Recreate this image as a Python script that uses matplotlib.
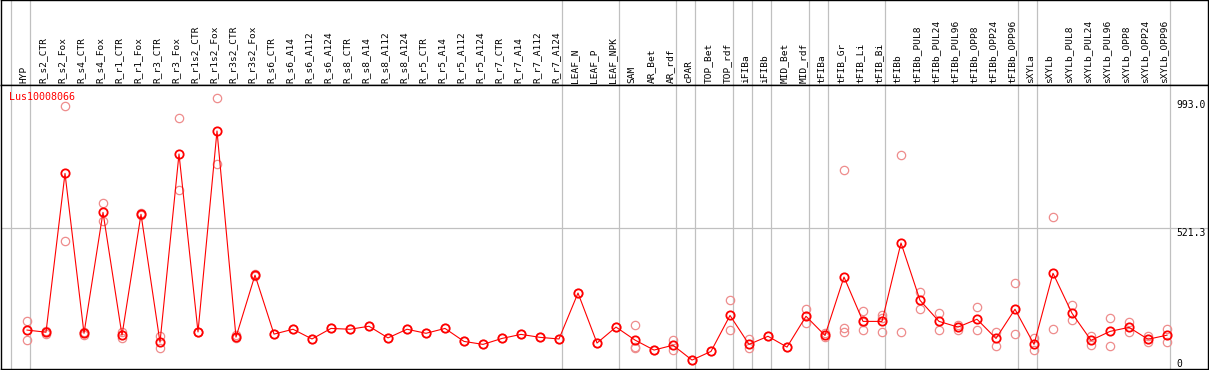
import matplotlib
matplotlib.use("Agg")
import matplotlib.pyplot as plt

# data
gene = "Lus10008066"

samples = ["HYP", "R_s2_CTR", "R_s2_Fox", "R_s4_CTR", "R_s4_Fox", "R_r1_CTR", "R_r1_Fox",
           "R_r3_CTR", "R_r3_Fox", "R_r1s2_CTR", "R_r1s2_Fox", "R_r3s2_CTR", "R_r3s2_Fox",
           "R_s6_CTR", "R_s6_A14", "R_s6_A112", "R_s6_A124", "R_s8_CTR", "R_s8_A14",
           "R_s8_A112", "R_s8_A124", "R_r5_CTR", "R_r5_A14", "R_r5_A112", "R_r5_A124",
           "R_r7_CTR", "R_r7_A14", "R_r7_A112", "R_r7_A124", "LEAF_N", "LEAF_P", "LEAF_NPK",
           "SAM", "AR_Bet", "AR_rdf", "cPAR", "TOP_Bet", "TOP_rdf", "iFIBa", "iFIBb",
           "MID_Bet", "MID_rdf", "tFIBa", "tFIB_Gr", "tFIB_Li", "tFIB_Bi", "tFIBb",
           "tFIBb_PUL8", "tFIBb_PUL24", "tFIBb_PUL96", "tFIBb_OPP8", "tFIBb_OPP24",
           "tFIBb_OPP96", "sXYLa", "sXYLb", "sXYLb_PUL8", "sXYLb_PUL24", "sXYLb_PUL96",
           "sXYLb_OPP8", "sXYLb_OPP24", "sXYLb_OPP96"]

means = [144, 136, 723, 132, 579, 125, 572, 99, 795, 137, 880, 118, 347,
         129, 147, 111, 150, 147, 158, 115, 147, 132, 150, 102, 91,
         113, 128, 117, 111, 281, 96, 155,
         107, 70, 88, 33, 65, 198, 91, 121,
         81, 195, 124, 340, 176, 176, 466,
         254, 176, 155, 184, 113, 221,
         91, 354, 206, 106, 139, 154, 110, 125]

replicates = [[179, 106], [140, 130], [972, 472], [137, 125], [612, 548], [137, 113], [575, 569],
              [123, 79], [927, 662], [137, 137], [1002, 757], [125, 113], [350, 343],
              [129], [147], [111], [150], [147], [158], [115], [147], [132], [150], [102], [91],
              [113], [128], [117], [111], [281], [96], [155],
              [163, 80, 78], [70], [107, 70], [33], [65], [254, 143], [110, 79], [121],
              [81], [222, 171], [132, 118], [736, 150, 136], [213, 143, 172], [200, 190, 138], [790, 136],
              [283, 221], [206, 143], [163, 143], [228, 143], [136, 86], [317, 128],
              [113, 69], [561, 147], [235, 180], [121, 88], [187, 86], [173, 136], [121, 99], [147, 99]]

# vertical separators come after these sample indices
group_ends = [-1, 0, 28, 31, 34, 35, 37, 38, 39, 41, 42, 45, 52, 53, 60]

y_ticks = [993.0, 521.3, 0]

W, H = 1209, 370
fig = plt.figure(figsize=(W / 100, H / 100), dpi=100)
font = "DejaVu Sans Mono"
gray = "#c0c0c0"

# pixel layout: columns 19 px apart, first at x=27; header 0-85 px, plot 85-369 px
x_left = (1 - 27) / 19
x_right = (1208 - 27) / 19
ax_head = fig.add_axes([1 / W, (H - 85) / H, 1207 / W, 85 / H])
ax = fig.add_axes([1 / W, 1 / H, 1207 / W, 284 / H])

for a in (ax_head, ax):
    a.set_xlim(x_left, x_right)
    a.set_xticks([])
    a.set_yticks([])
    for s in a.spines.values():
        s.set_color("black")
        s.set_linewidth(1.0)
    for g in group_ends:
        a.axvline(g + 0.16, color=gray, lw=0.9, zorder=0)

ax.set_ylim(0, 1050)
ax_head.set_ylim(0, 1)

# sample names in the header
for i, name in enumerate(samples):
    ax_head.text(i - 0.16, 0.025, name, rotation=90, ha="center", va="bottom",
                 fontsize=6.8, family=font, color="black")

ax.axhline(521.3, color=gray, lw=0.9, zorder=0)

# replicates
for i, reps in enumerate(replicates):
    ax.plot([i] * len(reps), reps, "o", mfc="none", mec="#ee8c8c", ms=6, mew=0.9, zorder=2)

# means
xs = list(range(len(samples)))
ax.plot(xs, means, "-", color="red", lw=0.8, zorder=3)
ax.plot(xs, means, "o", mfc="none", mec="red", ms=6, mew=1.3, zorder=4)

# value labels on the right
for v in y_ticks:
    lab = "0" if v == 0 else "%.1f" % v
    ax.text(60.5, v, lab, ha="left", va="bottom" if v == 0 else "top",
            fontsize=7, family=font, color="black")

ax.text(8 / 1207, 1 - 12 / 284, gene, transform=ax.transAxes, ha="left", va="center",
        fontsize=7.2, family=font, color="red")

fig.savefig("out.png", dpi=100)
